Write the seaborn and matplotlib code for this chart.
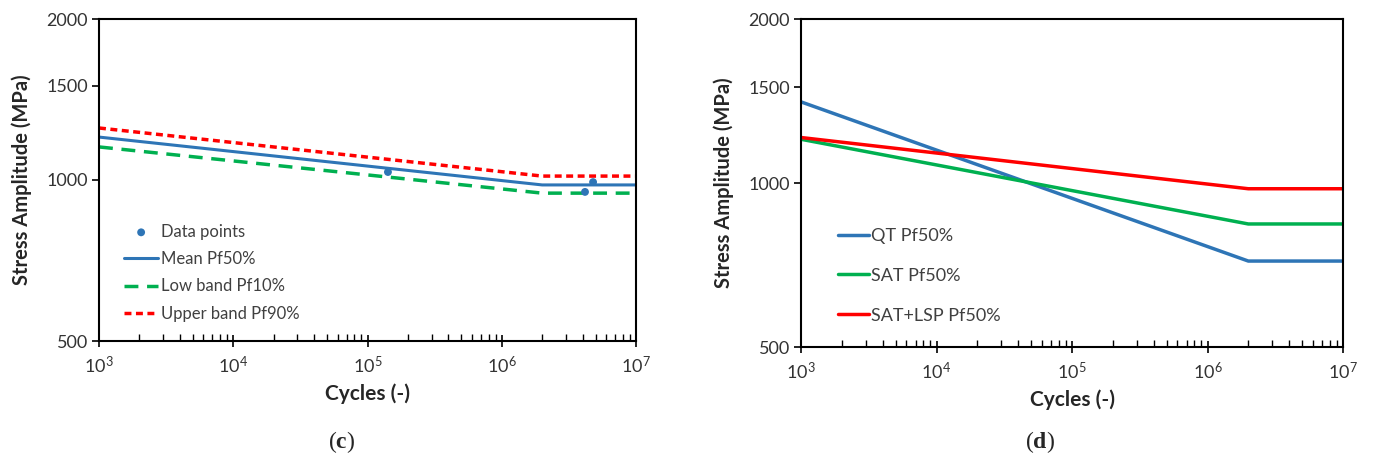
import numpy as np
import pandas as pd
import matplotlib
matplotlib.use("Agg")
import matplotlib.pyplot as plt
import seaborn as sns
from matplotlib.ticker import FixedLocator, FixedFormatter, LogLocator, NullLocator

sns.set_theme(style="white")
plt.rcParams['font.family'] = ['Lato', 'DejaVu Sans']
plt.rcParams['mathtext.fontset'] = 'custom'
plt.rcParams['mathtext.rm'] = 'Lato'
plt.rcParams['mathtext.bf'] = 'Liberation Serif:bold'

# ---------------- data ----------------
cycles_knee = [1e3, 2e6, 1e7]
mean_pf50 = [1203, 979, 979]
low_pf10 = [1153, 945, 945]
upper_pf90 = [1251, 1017, 1017]

points_cycles = [1.42e5, 4.17e6, 4.79e6]
points_stress = [1035, 950, 991]

qt_pf50 = [1409, 719, 719]
sat_pf50 = [1203, 841, 841]
satlsp_pf50 = [1212, 976, 976]

yticks = [500, 1000, 1500, 2000]
ytick_labels = ["500", "1000", "1500", "2000"]

BLUE = "#2E75B6"
GREEN = "#00B050"
RED = "#FF0000"

fig = plt.figure(figsize=(13.74, 4.59), dpi=100)
W, H = 1374, 459
axL = fig.add_axes([99 / W, 1 - 341 / H, (636 - 99) / W, (341 - 19) / H])
axR = fig.add_axes([801 / W, 1 - 347 / H, (1343 - 801) / W, (347 - 19) / H])

dfL = pd.DataFrame({"cycles": cycles_knee * 3,
                    "stress": mean_pf50 + low_pf10 + upper_pf90,
                    "series": ["Mean Pf50%"] * 3 + ["Low band Pf10%"] * 3 + ["Upper band Pf90%"] * 3})
dfP = pd.DataFrame({"cycles": points_cycles, "stress": points_stress})

sns.scatterplot(data=dfP, x="cycles", y="stress", ax=axL, color=BLUE, s=32,
                edgecolor="none", label="Data points", zorder=5)
sns.lineplot(data=dfL[dfL.series == "Mean Pf50%"], x="cycles", y="stress", ax=axL,
             color=BLUE, lw=2.2, label="Mean Pf50%")
sns.lineplot(data=dfL[dfL.series == "Low band Pf10%"], x="cycles", y="stress", ax=axL,
             color=GREEN, lw=2.5, label="Low band Pf10%")
axL.lines[-1].set_dashes([4, 2.5])
sns.lineplot(data=dfL[dfL.series == "Upper band Pf90%"], x="cycles", y="stress", ax=axL,
             color=RED, lw=2.5, label="Upper band Pf90%")
axL.lines[-1].set_dashes([2, 1.3])

dfR = pd.DataFrame({"cycles": cycles_knee * 3,
                    "stress": qt_pf50 + sat_pf50 + satlsp_pf50,
                    "series": ["QT Pf50%"] * 3 + ["SAT Pf50%"] * 3 + ["SAT+LSP Pf50%"] * 3})
sns.lineplot(data=dfR, x="cycles", y="stress", hue="series", ax=axR,
             palette=[BLUE, GREEN, RED], lw=2.5)

for ax in (axL, axR):
    ax.set_xscale("log")
    ax.set_yscale("log")
    ax.set_xlim(1e3, 1e7)
    ax.set_ylim(500, 2000)
    ax.yaxis.set_major_locator(FixedLocator(yticks))
    ax.yaxis.set_major_formatter(FixedFormatter(ytick_labels))
    ax.yaxis.set_minor_locator(NullLocator())
    ax.xaxis.set_major_locator(LogLocator(base=10, numticks=10))
    ax.xaxis.set_minor_locator(LogLocator(base=10, subs=np.arange(2, 10), numticks=20))
    ax.tick_params(axis="x", which="major", direction="inout", length=8, width=1.2,
                   colors="black", labelsize=13, pad=6, bottom=True)
    ax.tick_params(axis="x", which="minor", direction="in", length=5, width=1.0,
                   colors="black", bottom=True)
    ax.tick_params(axis="y", which="major", direction="out", length=5, width=1.2,
                   colors="black", labelsize=13, left=True, pad=3)
    for sp in ax.spines.values():
        sp.set_color("black")
        sp.set_linewidth(1.5)
    ax.set_xlabel("Cycles (-)", fontsize=15, fontweight="bold", labelpad=5)
    ax.set_ylabel("Stress Amplitude (MPa)", fontsize=14.5, fontweight="bold", labelpad=10)
    for t in ax.get_xticklabels() + ax.get_yticklabels():
        t.set_color("#333333")

legL = axL.legend(loc="upper left", bbox_to_anchor=(0.035, 0.385), frameon=False,
                  fontsize=12, handlelength=2.0, handletextpad=0.2, labelspacing=0.68,
                  borderaxespad=0)
for t in legL.get_texts():
    t.set_color("#404040")

hR, lR = axR.get_legend_handles_labels()
legR = axR.legend(hR, lR, loc="upper left", bbox_to_anchor=(0.055, 0.385), frameon=False,
                  fontsize=13, handlelength=1.7, handletextpad=0.1, labelspacing=1.32,
                  borderaxespad=0)
for t in legR.get_texts():
    t.set_color("#404040")

fig.text(342 / W, 1 - 442 / H, r"($\mathbf{c}$)", ha="center", va="center", fontsize=17,
         family="Liberation Serif")
fig.text(1040 / W, 1 - 442 / H, r"($\mathbf{d}$)", ha="center", va="center", fontsize=17,
         family="Liberation Serif")

fig.savefig("out.png", dpi=100)
